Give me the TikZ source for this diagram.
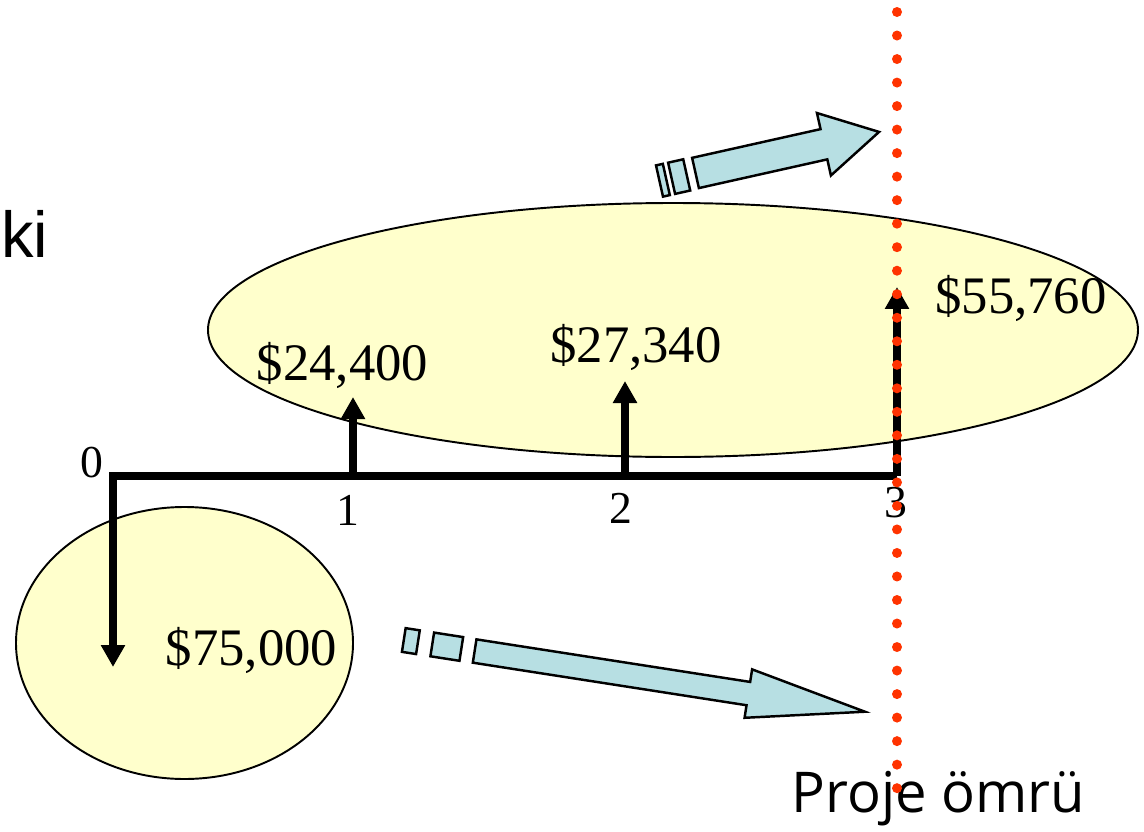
\documentclass[tikz,border=0pt]{standalone}
\usepackage{fontspec}
\setmainfont{Liberation Serif}
\newfontfamily\duzyazi{Liberation Sans}
\newfontfamily\elyazi{Open Sans}
\usepackage{tikz}
\usetikzlibrary{arrows.meta}
\definecolor{sariDolgu}{HTML}{FFFFCC}
\definecolor{acikMavi}{HTML}{B7DFE3}
\definecolor{noktaKirmizi}{HTML}{FF3300}

\begin{document}
\begin{tikzpicture}[x=0.02cm,y=-0.02cm,
  cizgi/.style={line width=4.5pt},
  nakit/.style={-{Triangle[length=0.44cm,width=0.46cm]},line width=4.5pt},
  tutar/.style={inner sep=0pt,anchor=base,font=\fontsize{30}{36}\selectfont},
  yil/.style={inner sep=0pt,anchor=base,font=\fontsize{26}{31}\selectfont},
  blok/.style={fill=acikMavi,draw=black,line width=1.4pt,line join=miter}]
\useasboundingbox (0,0) rectangle (1144,832);
% sari alanlar
\draw[fill=sariDolgu,line width=1.1pt] (673,330) ellipse [x radius=465,y radius=127];
\draw[fill=sariDolgu,line width=1.1pt] (184.5,643) ellipse [x radius=168.5,y radius=136];
% zaman ekseni
\coordinate (t0) at (113,476);
\coordinate (t1) at (353,476);
\coordinate (t2) at (625,476);
\coordinate (t3) at (897,476);
\coordinate (u0) at (113,667);
\coordinate (u1) at (353,397);
\coordinate (u2) at (625,381);
\coordinate (u3) at (897,287);
\draw[cizgi] ([xshift=-2.25pt]t0) -- (t3);
\draw[nakit] ([yshift=2.25pt]t0) -- (u0);
\draw[nakit] (t1) -- (u1);
\draw[nakit] (t2) -- (u2);
\draw[nakit] (t3) -- (u3);
\node[yil] (y0) at (92,477) {0};
\node[yil] (y1) at (348,525) {1};
\node[yil] (y2) at (621,523) {2};
\node[yil] (y3) at (896,517) {3};
\node[tutar] (n0) at (251.5,665) {\$75,000};
\node[tutar] (n1) at (342.5,380) {\$24,400};
\node[tutar] (n2) at (636,362) {\$27,340};
\node[tutar] (n3) at (1021,313) {\$55,760};
\node[inner sep=0pt,anchor=base west,font=\duzyazi\fontsize{37}{44}\selectfont] (ki) at (1,257) {ki};
% bloklu oklar
\begin{scope}[shift={(659.5,181)},rotate=12.6]
\draw[blok] (0,-16) rectangle (7,16);
\draw[blok] (12.4,-16) rectangle (27.9,16);
\draw[blok] (36.9,-15.5) -- (168.5,-15.5) -- (168.5,-32) -- (225,0)
  -- (168.5,32) -- (168.5,15.5) -- (36.9,15.5) -- cycle;
\end{scope}
\begin{scope}[shift={(403.8,640)},rotate=-8.84]
\draw[blok] (0,-12) rectangle (14.3,12);
\draw[blok] (28.8,-12) rectangle (58.2,12);
\draw[blok] (71.7,-11.8) -- (348.7,-11.8) -- (348.7,-24.5) -- (466.7,0)
  -- (348.7,24.5) -- (348.7,11.8) -- (71.7,11.8) -- cycle;
\end{scope}
\node[inner sep=0pt,anchor=base,font=\elyazi\fontsize{32}{38}\selectfont] (omur) at (938.5,812) {Proje ömrü};
% kirmizi noktali cizgi
\foreach \i in {0,...,33}
  \fill[noktaKirmizi] (897,12+23.52*\i) circle (0.1cm);
\end{tikzpicture}
\end{document}
